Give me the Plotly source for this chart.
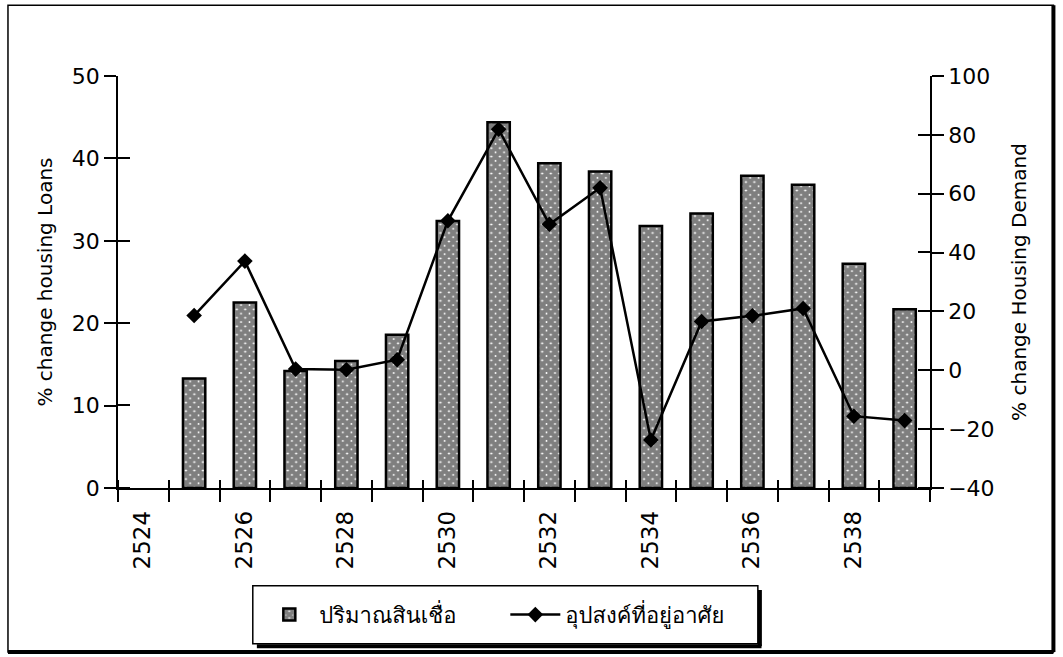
import plotly.graph_objects as go

# Buddhist-era years on the category axis (2524 has no data)
years = [2525, 2526, 2527, 2528, 2529, 2530, 2531, 2532,
         2533, 2534, 2535, 2536, 2537, 2538, 2539]
loans_pct = [13.3, 22.5, 14.2, 15.4, 18.6, 32.4, 44.4, 39.4,
             38.4, 31.8, 33.3, 37.9, 36.8, 27.2, 21.7]
demand_pct = [18.6, 37.1, 0.4, 0.2, 3.6, 50.8, 81.9, 49.6,
              62.0, -23.7, 16.6, 18.5, 21.0, -15.6, -17.1]

all_years = list(range(2524, 2540))
label_every = 2
x_range = [2523.5, 2539.5]

loans_ticks = [0, 10, 20, 30, 40, 50]
demand_ticks = [-40, -20, 0, 20, 40, 60, 80, 100]

name_loans = "ปริมาณสินเชื่อ"
name_demand = "อุปสงค์ที่อยู่อาศัย"

font_axis = "DejaVu Sans, Liberation Sans, Arial, sans-serif"
font_thai = "Tahoma, Loma, Garuda, Noto Sans Thai, sans-serif"

# ticks sit on category boundaries; the year label is shifted to the centre
boundaries = [y - 0.5 for y in all_years] + [all_years[-1] + 0.5]
boundary_text = [str(y) if (y - all_years[0]) % label_every == 0 else ""
                 for y in all_years] + [""]


def nudge(vals, eps):
    # second tick set, a hair off the first, drawn on the other side
    return [v + eps for v in vals]


fig = go.Figure()

fig.add_trace(go.Bar(
    x=years, y=loans_pct, name=name_loans, width=0.44,
    marker=dict(color="white",
                line=dict(color="black", width=2.5),
                pattern=dict(shape="x", fgcolor="black", bgcolor="white",
                             size=6, solidity=0.92)),
    yaxis="y",
))

fig.add_trace(go.Scatter(
    x=years, y=demand_pct, name=name_demand, mode="lines+markers",
    line=dict(color="black", width=2.5),
    marker=dict(symbol="diamond", size=12, color="black"),
    yaxis="y2",
))

axis_common = dict(showgrid=False, zeroline=False, showline=True,
                   linecolor="black", linewidth=1.5, tickcolor="black",
                   tickwidth=1.5)

# legend frame (with drop shadow) in paper coordinates
leg_x0, leg_x1 = 0.166, 0.788
leg_y0, leg_y1 = -0.378, -0.2375
shadow = 0.005

fig.update_layout(
    width=1063, height=657,
    margin=dict(l=118, r=133, t=76, b=169),
    paper_bgcolor="white", plot_bgcolor="white",
    showlegend=True,
    xaxis=dict(
        range=x_range, tickvals=boundaries, ticktext=boundary_text,
        ticks="outside", ticklen=12, tickangle=-90, ticklabelshift=25,
        tickfont=dict(family=font_axis, size=23, color="black"),
        minor=dict(tickvals=nudge(boundaries, 0.003), ticks="inside",
                   ticklen=8, tickcolor="black", tickwidth=1.5),
        **axis_common,
    ),
    yaxis=dict(
        range=[0, 50], tickvals=loans_ticks, ticks="outside", ticklen=12,
        tickfont=dict(family=font_axis, size=22, color="black"),
        minor=dict(tickvals=nudge(loans_ticks, 0.02), ticks="inside",
                   ticklen=12, tickcolor="black", tickwidth=1.5),
        title=dict(text="% change housing Loans", standoff=14,
                   font=dict(family=font_axis, size=20, color="black")),
        **axis_common,
    ),
    yaxis2=dict(
        range=[-40, 100], tickvals=demand_ticks, overlaying="y",
        side="right", ticks="outside", ticklen=12,
        tickfont=dict(family=font_axis, size=22, color="black"),
        minor=dict(tickvals=nudge(demand_ticks, 0.05), ticks="inside",
                   ticklen=12, tickcolor="black", tickwidth=1.5),
        title=dict(text="% change Housing Demand", standoff=18,
                   font=dict(family=font_axis, size=20, color="black")),
        **axis_common,
    ),
    legend=dict(
        orientation="h", x=(leg_x0 + leg_x1) / 2, xanchor="center",
        y=(leg_y0 + leg_y1) / 2, yanchor="middle",
        borderwidth=0, bgcolor="rgba(0,0,0,0)",
        font=dict(family=font_thai, size=22, color="black"),
        itemwidth=50, entrywidth=181, entrywidthmode="pixels",
        traceorder="normal",
    ),
    shapes=[
        # outer frame, heavier on the right and bottom edges
        dict(type="rect", xref="paper", yref="paper",
             x0=-0.1355, x1=1.152, y0=-0.398, y1=1.172,
             line=dict(color="black", width=1.5), layer="below"),
        dict(type="line", xref="paper", yref="paper",
             x0=1.152, x1=1.152, y0=-0.398, y1=1.172,
             line=dict(color="black", width=4)),
        dict(type="line", xref="paper", yref="paper",
             x0=-0.1355, x1=1.152, y0=-0.398, y1=-0.398,
             line=dict(color="black", width=4)),
        # legend box and its shadow
        dict(type="rect", xref="paper", yref="paper",
             x0=leg_x0, x1=leg_x1, y0=leg_y0, y1=leg_y1,
             line=dict(color="black", width=1.5), layer="below"),
        dict(type="line", xref="paper", yref="paper",
             x0=leg_x1 + shadow / 2, x1=leg_x1 + shadow / 2,
             y0=leg_y0 - 0.006, y1=leg_y1 - 0.01,
             line=dict(color="black", width=4)),
        dict(type="line", xref="paper", yref="paper",
             x0=leg_x0 + 0.005, x1=leg_x1 + shadow / 2 + 0.002,
             y0=leg_y0 - 0.006, y1=leg_y0 - 0.006,
             line=dict(color="black", width=4)),
    ],
)

fig.write_html("out.html")
